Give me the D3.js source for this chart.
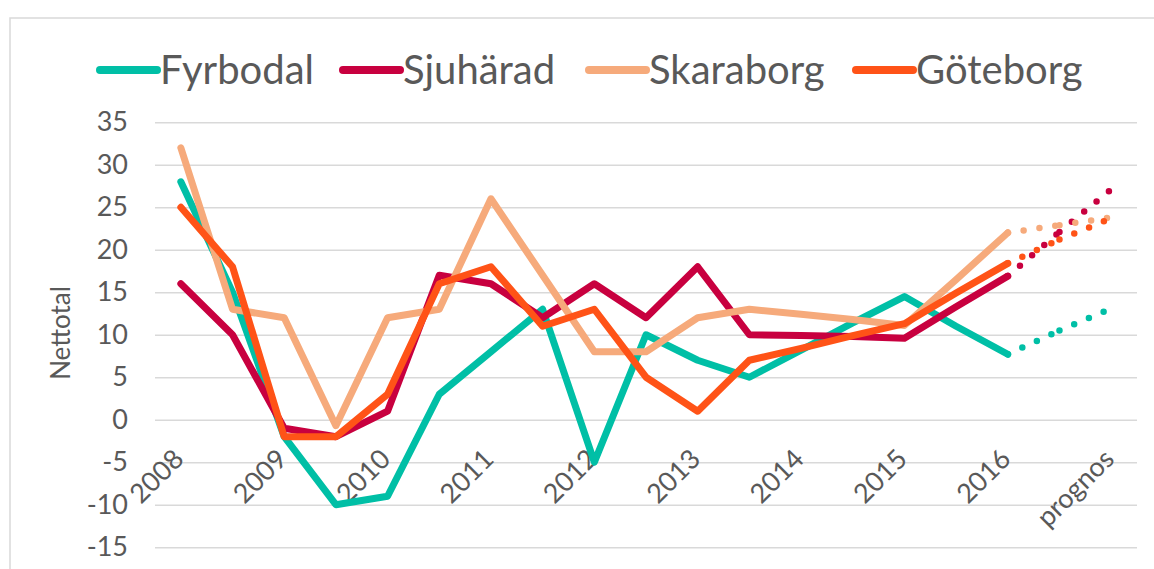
<!DOCTYPE html>
<html>
<head>
<meta charset="utf-8">
<script src="https://cdn.jsdelivr.net/npm/d3@7"></script>
<style>
  body { margin: 0; background: #fff; }
  svg { display: block; font-family: Lato, "Open Sans", sans-serif; }
</style>
</head>
<body>
<svg id="chart" width="1154" height="569"></svg>
<script>
// halvårsvärden, etikett bara på varannan kategori
var categories = ["2008","2008b","2009","2009b","2010","2010b","2011","2011b","2012","2012b",
                  "2013","2013b","2014","2014b","2015","2015b","2016","2016b","prognos"];
var tickLabels = ["2008","2009","2010","2011","2012","2013","2014","2015","2016","prognos"];
var seriesNames = ["Fyrbodal","Sjuhärad","Skaraborg","Göteborg"];
var colors = ["#00bfa6","#c8003f","#f6aa7b","#ff5317"];

var fyrbodal  = [28, 15, -2, -10, -9, 3, 8, 13, -5, 10, 7, 5, 8.2, 11.4, 14.5, 11, 7.7];
var sjuharad  = [16, 10, -1, -2, 1, 17, 16, 12, 16, 12, 18, 10, 9.9, 9.8, 9.6, 13.3, 16.9];
var skaraborg = [32, 13, 12, -0.7, 12, 13, 26, 17, 8, 8, 12, 13, 12.4, 11.8, 11.1, 16.5, 22];
var goteborg  = [25, 18, -2, -2, 3, 16, 18, 11, 13, 5, 1, 7, 8.4, 9.9, 11.3, 14.9, 18.4];

// prognos: från 2016 (index 16) till index 18
var prognosFyrbodal  = [7.7, 10.5, 13.1];
var prognosSjuharad  = [16.9, 22.1, 27.1];
var prognosSkaraborg = [22, 22.9, 23.8];
var prognosGoteborg  = [18.4, 21.2, 23.7];

var yTicks = d3.range(-15, 36, 5);

var solid = [fyrbodal, sjuharad, skaraborg, goteborg];
var prognos = [prognosFyrbodal, prognosSjuharad, prognosSkaraborg, prognosGoteborg];

var svg = d3.select("#chart");
var textColor = "#595959";

// ram
svg.append("rect")
  .attr("x", 10).attr("y", 18)
  .attr("width", 1200).attr("height", 600)
  .attr("fill", "none")
  .attr("stroke", "#d9d9d9")
  .attr("stroke-width", 1.5);

var left = 155, right = 1137;
var x = d3.scalePoint().domain(categories).range([left, right]).padding(0.5);
var y = d3.scaleLinear().domain([-15, 35]).range([547.2, 122.3]);

// y-axel med stödlinjer
var yAxis = svg.append("g")
  .attr("transform", "translate(" + left + ",0)")
  .call(d3.axisLeft(y).tickValues(yTicks).tickSize(-(right - left)).tickPadding(27)
    .tickFormat(function(d) { return String(d); }));
yAxis.select(".domain").remove();
yAxis.selectAll(".tick line").attr("stroke", "#d9d9d9").attr("stroke-width", 1.5);
yAxis.selectAll(".tick text")
  .attr("fill", textColor)
  .style("font-size", "27px")
  .style("font-family", "Lato, sans-serif");

// y-axelns titel
svg.append("text")
  .attr("transform", "translate(70,333) rotate(-90)")
  .attr("text-anchor", "middle")
  .attr("fill", textColor)
  .style("font-size", "26px")
  .text("Nettotal");

// x-axel vid noll
var labelCats = categories.filter(function(d, i) { return i % 2 == 0; });
var xAxis = svg.append("g")
  .attr("transform", "translate(0," + y(0) + ")")
  .call(d3.axisBottom(x).tickValues(labelCats).tickSize(0)
    .tickFormat(function(d) { return tickLabels[labelCats.indexOf(d)]; }));
xAxis.select(".domain").remove();
xAxis.selectAll(".tick text")
  .attr("fill", textColor)
  .style("font-size", "27px")
  .style("font-family", "Lato, sans-serif")
  .attr("text-anchor", "end")
  .attr("dy", null)
  .attr("y", 0)
  .attr("transform", "translate(4,41) rotate(-45)");

var line = d3.line()
  .x(function(d) { return x(d.c); })
  .y(function(d) { return y(d.v); });

// heldragna linjer
solid.forEach(function(s, k) {
  var pts = s.map(function(v, i) { return {c: categories[i], v: v}; });
  svg.append("path")
    .datum(pts)
    .attr("d", line)
    .attr("fill", "none")
    .attr("stroke", colors[k])
    .attr("stroke-width", 7)
    .attr("stroke-linejoin", "round")
    .attr("stroke-linecap", "round");
});

// prickade prognoslinjer, mönstret börjar om i varje punkt
prognos.forEach(function(s, k) {
  for (var i = 0; i < s.length - 1; i++) {
    var seg = [{c: categories[16 + i], v: s[i]}, {c: categories[17 + i], v: s[i + 1]}];
    svg.append("path")
      .datum(seg)
      .attr("d", line)
      .attr("fill", "none")
      .attr("stroke", colors[k])
      .attr("stroke-width", 6.5)
      .attr("stroke-linecap", "round")
      .attr("stroke-dasharray", "0 16");
  }
});

// legend
var legendX = [100, 343, 589, 856];
var legend = svg.append("g");
seriesNames.forEach(function(name, k) {
  var g = legend.append("g").attr("transform", "translate(" + legendX[k] + ",70)");
  g.append("line")
    .attr("x1", 0).attr("x2", 57)
    .attr("stroke", colors[k])
    .attr("stroke-width", 8)
    .attr("stroke-linecap", "round");
  g.append("text")
    .attr("x", 60).attr("y", 14)
    .attr("fill", textColor)
    .style("font-size", "40px")
    .text(name);
});
</script>
</body>
</html>
